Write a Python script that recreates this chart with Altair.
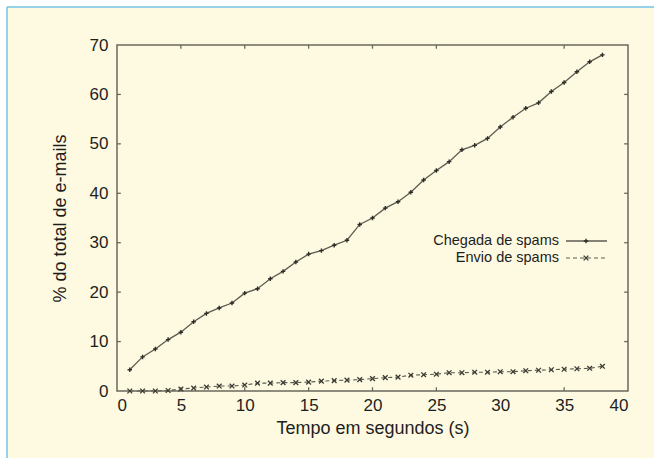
import altair as alt
import pandas as pd

# Time in seconds and cumulative share of e-mails (%)
tempo = list(range(1, 39))
chegada = [4.3, 6.9, 8.5, 10.4, 11.9, 14.0, 15.7, 16.8, 17.8, 19.8,
           20.7, 22.7, 24.2, 26.1, 27.7, 28.4, 29.5, 30.5, 33.7, 35.0,
           37.0, 38.3, 40.2, 42.7, 44.6, 46.4, 48.8, 49.7, 51.1, 53.4,
           55.4, 57.2, 58.3, 60.6, 62.4, 64.6, 66.6, 68.0]
envio = [0.0, 0.0, 0.0, 0.1, 0.4, 0.6, 0.8, 1.0, 1.0, 1.2,
         1.6, 1.6, 1.7, 1.7, 1.8, 2.0, 2.1, 2.2, 2.3, 2.5,
         2.7, 2.8, 3.2, 3.3, 3.4, 3.7, 3.7, 3.8, 3.8, 3.9,
         3.9, 4.1, 4.2, 4.3, 4.4, 4.5, 4.6, 5.0]

series_names = ["Chegada de spams", "Envio de spams"]
x_ticks = [0, 5, 10, 15, 20, 25, 30, 35, 40]
y_ticks = [0, 10, 20, 30, 40, 50, 60, 70]
x_inner_ticks = [5, 10, 15, 20, 25, 35]
y_inner_ticks = [10, 20, 30, 40, 50, 60]

FONT = "Liberation Sans"
INK = "#1e1e1e"
LINE = "#5c5b50"
FRAME = "#6a695c"
CREAM = "#FDFAE1"
BLUE = "#72C3E6"

W, H = 511, 346

df_c = pd.DataFrame({"t": tempo, "v": chegada})
df_e = pd.DataFrame({"t": tempo, "v": envio})

xs = alt.Scale(domain=[0, 40], nice=False)
ys = alt.Scale(domain=[0, 70], nice=False)

x_axis = alt.Axis(values=x_ticks, format="d", ticks=False, domain=False, grid=False,
                  labelFont=FONT, labelFontSize=17, labelColor=INK, labelPadding=6,
                  title="Tempo em segundos (s)", titleFont=FONT, titleFontSize=18,
                  titleFontWeight="normal", titleColor=INK, titlePadding=6, zindex=1)
y_axis = alt.Axis(values=y_ticks, format="d", ticks=False, domain=False, grid=False,
                  labelFont=FONT, labelFontSize=17, labelColor=INK, labelPadding=9,
                  title="% do total de e-mails", titleFont=FONT, titleFontSize=18,
                  titleFontWeight="normal", titleColor=INK, titlePadding=20, zindex=1)

base_df = pd.DataFrame({"k": [0]})

# white margin strips and the blue edge on top and left of the page
strip_top = alt.Chart(base_df).mark_rect(color="white").encode(
    x=alt.value(-120), x2=alt.value(W + 40), y=alt.value(-50), y2=alt.value(-38))
strip_left = alt.Chart(base_df).mark_rect(color="white").encode(
    x=alt.value(-120), x2=alt.value(-110), y=alt.value(-50), y2=alt.value(H + 80))
edge_top = alt.Chart(base_df).mark_rule(color=BLUE, strokeWidth=1.5).encode(
    x=alt.value(-110), x2=alt.value(W + 40), y=alt.value(-38))
edge_left = alt.Chart(base_df).mark_rule(color=BLUE, strokeWidth=1.5).encode(
    x=alt.value(-110), y=alt.value(-38), y2=alt.value(H + 80))

# axes (labels and titles only)
axes = alt.Chart(df_c).mark_point(opacity=0).encode(
    x=alt.X("t:Q", scale=xs, axis=x_axis),
    y=alt.Y("v:Q", scale=ys, axis=y_axis))

# inward ticks on all four sides
tb = pd.DataFrame({"x": x_inner_ticks * 2,
                   "y": [0] * len(x_inner_ticks) + [70] * len(x_inner_ticks),
                   "y2": [0.75] * len(x_inner_ticks) + [69.25] * len(x_inner_ticks)})
lr = pd.DataFrame({"y": y_inner_ticks * 2,
                   "x": [0] * len(y_inner_ticks) + [40] * len(y_inner_ticks),
                   "x2": [0.3] * len(y_inner_ticks) + [39.7] * len(y_inner_ticks)})
ticks_tb = alt.Chart(tb).mark_rule(color=FRAME, strokeWidth=1.3).encode(
    x=alt.X("x:Q", scale=xs), y=alt.Y("y:Q", scale=ys), y2="y2:Q")
ticks_lr = alt.Chart(lr).mark_rule(color=FRAME, strokeWidth=1.3).encode(
    x=alt.X("x:Q", scale=xs), x2="x2:Q", y=alt.Y("y:Q", scale=ys))

PLUS = "M-1,0L1,0M0,-1L0,1"
CROSS = "M-1,-1L1,1M-1,1L1,-1"

line_c = alt.Chart(df_c).mark_line(color=LINE, strokeWidth=1.3).encode(
    x=alt.X("t:Q", scale=xs), y=alt.Y("v:Q", scale=ys))
pts_c = alt.Chart(df_c).mark_point(shape=PLUS, filled=False, color="#2e2e28",
                                   size=20, strokeWidth=1.4, opacity=1).encode(
    x=alt.X("t:Q", scale=xs), y=alt.Y("v:Q", scale=ys))
line_e = alt.Chart(df_e).mark_line(color=LINE, strokeWidth=1.1, strokeDash=[4, 3]).encode(
    x=alt.X("t:Q", scale=xs), y=alt.Y("v:Q", scale=ys))
pts_e = alt.Chart(df_e).mark_point(shape=CROSS, filled=False, color="#3a3a33",
                                   size=22, strokeWidth=1.3, opacity=1).encode(
    x=alt.X("t:Q", scale=xs), y=alt.Y("v:Q", scale=ys))

# key in the upper right of the data area
leg_y = [196, 213]
leg_txt = alt.layer(*[
    alt.Chart(base_df).mark_text(text=name, font=FONT, fontSize=14.5, color=INK,
                                 align="right", baseline="middle").encode(
        x=alt.value(442), y=alt.value(yy))
    for name, yy in zip(series_names, leg_y)])
leg_c_line = alt.Chart(base_df).mark_rule(color=LINE, strokeWidth=1.3).encode(
    x=alt.value(449), x2=alt.value(490), y=alt.value(leg_y[0]))
leg_c_pt = alt.Chart(base_df).mark_point(shape=PLUS, filled=False, color="#2e2e28",
                                         size=20, strokeWidth=1.4, opacity=1).encode(
    x=alt.value(469), y=alt.value(leg_y[0]))
leg_e_line = alt.Chart(base_df).mark_rule(color=LINE, strokeWidth=1.1, strokeDash=[4, 3]).encode(
    x=alt.value(449), x2=alt.value(490), y=alt.value(leg_y[1]))
leg_e_pt = alt.Chart(base_df).mark_point(shape=CROSS, filled=False, color="#3a3a33",
                                         size=22, strokeWidth=1.3, opacity=1).encode(
    x=alt.value(469), y=alt.value(leg_y[1]))

chart = alt.layer(
    strip_top, strip_left, edge_top, edge_left, axes, ticks_tb, ticks_lr,
    line_c, pts_c, line_e, pts_e,
    leg_txt, leg_c_line, leg_c_pt, leg_e_line, leg_e_pt
).properties(
    width=W, height=H,
    autosize=alt.AutoSizeParams(type="none"),
    padding={"left": 117, "top": 45, "right": 654 - 117 - W, "bottom": 458 - 45 - H},
    background=CREAM,
).configure_view(stroke=FRAME, strokeWidth=1.5, fill=None)

chart.save("out.html", embed_options={"renderer": "svg", "actions": False})
